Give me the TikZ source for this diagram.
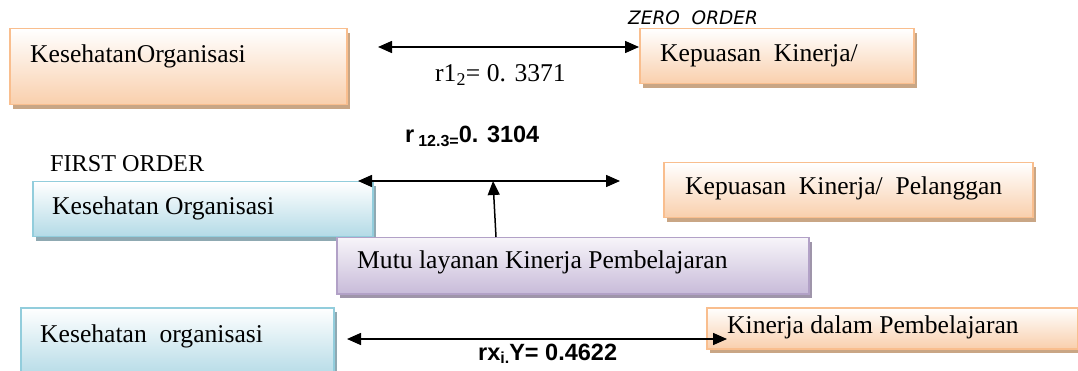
\documentclass[tikz,border=0pt]{standalone}
\usepackage{fontspec}
\setmainfont{Liberation Serif}
\setsansfont{Liberation Sans}
\newfontfamily\zerofont{DejaVu Sans}
\usetikzlibrary{arrows.meta,shadows}
\definecolor{orbord}{HTML}{F9BE8E}
\definecolor{orbot}{HTML}{F9CFAC}
\definecolor{orshad}{HTML}{C9A685}
\definecolor{blbord}{HTML}{92CDDC}
\definecolor{blbot}{HTML}{B3DAE6}
\definecolor{blshad}{HTML}{8FA9B2}
\definecolor{pubord}{HTML}{B2A1C7}
\definecolor{pubot}{HTML}{C8BBD9}
\definecolor{pushad}{HTML}{9F95AA}
\tikzset{
  box/.style={draw, line width=1.5pt, inner sep=0pt, anchor=north west, rectangle},
  obox/.style={box, draw=orbord, top color=white, bottom color=orbot,
    drop shadow={shadow xshift=3pt, shadow yshift=-4pt, fill=orshad, opacity=1}},
  bbox/.style={box, draw=blbord, top color=white, bottom color=blbot,
    drop shadow={shadow xshift=3pt, shadow yshift=-4pt, fill=blshad, opacity=1}},
  pbox/.style={box, draw=pubord, top color=white!85!pubot, bottom color=pubot,
    drop shadow={shadow xshift=3pt, shadow yshift=-4pt, fill=pushad, opacity=1}},
  txt/.style={anchor=base west, inner sep=0pt, font=\fontsize{25.6}{30}\selectfont},
  btxt/.style={anchor=base west, inner sep=0pt, font=\sffamily\bfseries\fontsize{23.5}{28}\selectfont},
  conn/.style={line width=1.5pt, {Triangle[length=14pt,width=12pt]}-{Triangle[length=14pt,width=12pt]}},
  up/.style={line width=1.5pt, -{Triangle[length=14pt,width=12pt]}}
}
\begin{document}
\begin{tikzpicture}[x=1pt,y=-1pt]
\useasboundingbox (0,0) rectangle (1078,371);
% zero order
\node[obox, minimum width=337pt, minimum height=76pt] (b1) at (9,28) {};
\node[txt] (t1) at (30,63) {KesehatanOrganisasi};
\node[obox, minimum width=274pt, minimum height=55pt] (b2) at (639,28) {};
\node[txt] (t2) at (660,62) {Kepuasan\ \ Kinerja/};
\node[anchor=base west, inner sep=0pt, font=\zerofont\itshape\fontsize{18.5}{22}\selectfont] (zo) at (628,25) {ZERO\ \ ORDER};
\coordinate (a1l) at (378,47);
\draw[conn] (a1l) -- (b2.west |- a1l);
\node[txt] (l1) at (435,82) {r1\textsubscript{2}= 0. 3371};
% first order
\node[anchor=base west, inner sep=0pt, font=\fontsize{24.2}{28}\selectfont] (fo) at (50,172) {FIRST ORDER};
\node[bbox, minimum width=340pt, minimum height=55pt] (b3) at (32,181) {};
\node[txt] (t3) at (52,215) {Kesehatan Organisasi};
\node[obox, minimum width=369pt, minimum height=55pt] (b4) at (663,162) {};
\node[txt] (t4) at (685,195) {Kepuasan\ \ Kinerja/\ \ Pelanggan};
\node[pbox, minimum width=472pt, minimum height=56pt] (b5) at (336,237) {};
\node[txt] (t5) at (357,269) {Mutu layanan Kinerja Pembelajaran};
\coordinate (a2l) at (358,181);
\coordinate (a2r) at (620,181);
\draw[conn] (a2l) -- (a2r);
\coordinate (a3t) at (493,181);
\draw[up] (b5.north west -| 496,0) -- (a3t);
\node[btxt] (l2) at (405,143) {r\,\raisebox{-4pt}{\fontsize{16}{19}\selectfont 12.3=}0. 3104};
% bottom
\node[bbox, minimum width=313pt, minimum height=70pt] (b6) at (20,307) {};
\node[txt] (t6) at (40,342) {Kesehatan\ \ organisasi};
\node[obox, minimum width=371pt, minimum height=41pt] (b7) at (706,307) {};
\node[txt] (t7) at (727,333) {Kinerja dalam Pembelajaran};
\coordinate (a4l) at (347,339);
\coordinate (a4r) at (727,339);
\draw[conn] (a4l) -- (a4r);
\node[btxt] (l3) at (478,360) {rx\raisebox{-3pt}{\fontsize{16}{19}\selectfont i.}Y= 0.4622};
\end{tikzpicture}
\end{document}
